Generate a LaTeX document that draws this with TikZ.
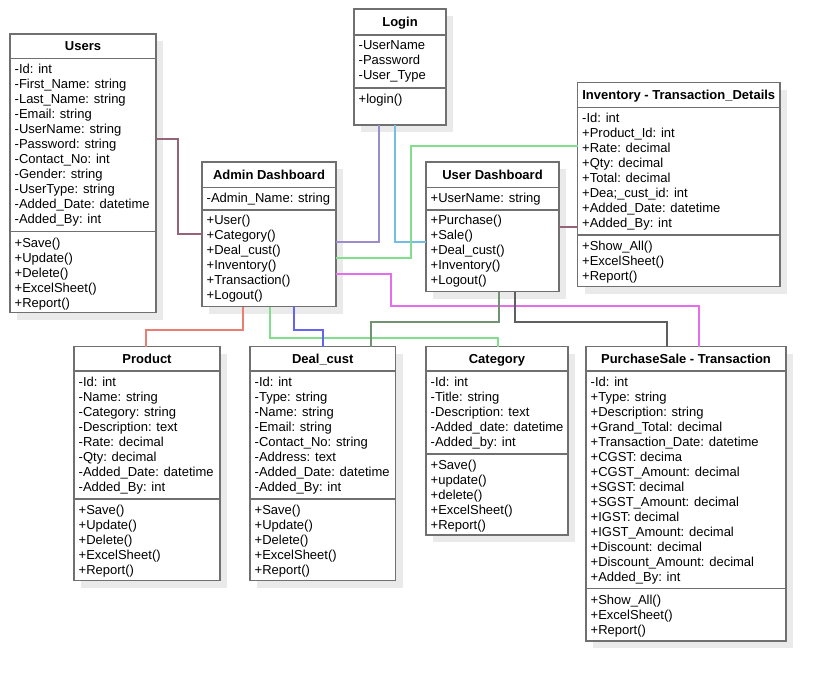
\documentclass[tikz,border=0pt]{standalone}
\usepackage{fontspec}
\setmainfont{Liberation Sans}
\definecolor{bord}{RGB}{112,112,112}
\definecolor{shad}{RGB}{234,234,234}
\definecolor{cmauve}{RGB}{150,100,120}
\definecolor{cpurple}{RGB}{155,140,205}
\definecolor{ccyan}{RGB}{115,190,225}
\definecolor{clgreen}{RGB}{130,222,140}
\definecolor{cmagenta}{RGB}{228,110,235}
\definecolor{csalmon}{RGB}{235,125,115}
\definecolor{cblue}{RGB}{100,100,240}
\definecolor{cggreen}{RGB}{115,145,115}
\definecolor{cdgray}{RGB}{95,95,95}
\tikzset{
  clsbox/.style={draw=bord, line width=1.8pt, fill=white, inner sep=0pt, outer sep=0pt, anchor=north west},
  shadowbox/.style={fill=shad, draw=none},
  divline/.style={draw=bord, line width=1.8pt},
  txt/.style={anchor=base west, inner sep=0pt, font=\fontsize{13}{15}\selectfont},
  ttl/.style={anchor=base, inner sep=0pt, font=\fontsize{13}{15}\selectfont\bfseries},
  connline/.style={line width=2pt, draw=#1},
}
% #1 name, #2 x1, #3 y1, #4 x2, #5 y2, #6 div1, #7 div2, #8 title
\newcommand\umlbox[8]{%
  \fill[shadowbox] (#2+7,#3+7) rectangle (#4+7,#5+7);
  \node[clsbox, minimum width=#4pt-#2pt, minimum height=#5pt-#3pt] (#1) at (#2,#3) {};
  \draw[divline] (#2,#6) -- (#4,#6);
  \draw[divline] (#2,#7) -- (#4,#7);
  \node[ttl] (#1title) at ({(#2+#4)/2},{(#3+#6)/2+4.6}) {#8};
}
% #1 prefix, #2 x, #3 first baseline, #4 list
\newcommand\umllines[4]{%
  \foreach \lineitem [count=\i from 0] in {#4} {\node[txt] (#1\i) at (#2,#3+15*\i) {\lineitem};}
}
\begin{document}
\begin{tikzpicture}[x=1pt,y=-1pt]
\useasboundingbox (0,0) rectangle (826,681);
\fill[white] (0,0) rectangle (826,681);

% Users
\umlbox{users}{10}{34}{156}{312.5}{58.5}{231.5}{Users}
\umllines{usersa}{14.5}{73}{-Id: int,-First\_Name: string,-Last\_Name: string,-Email: string,-UserName: string,-Password: string,-Contact\_No: int,-Gender: string,-UserType: string,-Added\_Date: datetime,-Added\_By: int}
\umllines{usersm}{14.5}{247}{+Save(),+Update(),+Delete(),+ExcelSheet(),+Report()}

% Login
\umlbox{login}{354}{9}{446}{125}{35}{88}{Login}
\umllines{logina}{358.5}{49.6}{-UserName,-Password,-User\_Type}
\umllines{loginm}{358.5}{103.6}{+login()}

% Admin Dashboard
\umlbox{admin}{202}{162}{336}{306.5}{187.5}{210}{Admin Dashboard}
\umllines{admina}{206.5}{202.3}{-Admin\_Name: string}
\umllines{adminm}{206.5}{224.7}{+User(),+Category(),+Deal\_cust(),+Inventory(),+Transaction(),+Logout()}

% User Dashboard
\umlbox{udash}{426}{162}{559}{291.5}{187.5}{210}{User Dashboard}
\umllines{udasha}{430.5}{202.3}{+UserName: string}
\umllines{udashm}{430.5}{224.7}{+Purchase(),+Sale(),+Deal\_cust(),+Inventory(),+Logout()}

% Inventory
\umlbox{inv}{577.5}{82.5}{780}{286.5}{107.5}{235}{Inventory - Transaction\_Details}
\umllines{inva}{582}{122.3}{-Id: int,+Product\_Id: int,+Rate: decimal,+Qty: decimal,+Total: decimal,+Dea;\_cust\_id: int,+Added\_Date: datetime,+Added\_By: int}
\umllines{invm}{582}{250.7}{+Show\_All(),+ExcelSheet(),+Report()}

% Product
\umlbox{prod}{74}{346.5}{220}{580.5}{371}{499}{Product}
\umllines{proda}{78.5}{386.3}{-Id: int,-Name: string,-Category: string,-Description: text,-Rate: decimal,-Qty: decimal,-Added\_Date: datetime,-Added\_By: int}
\umllines{prodm}{78.5}{514.7}{+Save(),+Update(),+Delete(),+ExcelSheet(),+Report()}

% Deal_cust
\umlbox{deal}{250}{346.5}{395.5}{580.5}{371}{499}{Deal\_cust}
\umllines{deala}{254.5}{386.3}{-Id: int,-Type: string,-Name: string,-Email: string,-Contact\_No: string,-Address: text,-Added\_Date: datetime,-Added\_By: int}
\umllines{dealm}{254.5}{514.7}{+Save(),+Update(),+Delete(),+ExcelSheet(),+Report()}

% Category
\umlbox{cat}{426}{346.5}{568}{535}{371}{454}{Category}
\umllines{cata}{430.5}{386.3}{-Id: int,-Title: string,-Description: text,-Added\_date: datetime,-Added\_by: int}
\umllines{catm}{430.5}{469.7}{+Save(),+update(),+delete(),+ExcelSheet(),+Report()}

% PurchaseSale - Transaction
\umlbox{ps}{586}{346.5}{786}{641}{371}{588.5}{PurchaseSale - Transaction}
\umllines{psa}{590.5}{386.3}{-Id: int,+Type: string,+Description: string,+Grand\_Total: decimal,+Transaction\_Date: datetime,+CGST: decima,+CGST\_Amount: decimal,+SGST: decimal,+SGST\_Amount: decimal,+IGST: decimal,+IGST\_Amount: decimal,+Discount: decimal,+Discount\_Amount: decimal,+Added\_By: int}
\umllines{psm}{590.5}{604}{+Show\_All(),+ExcelSheet(),+Report()}

% connectors
\draw[connline=cmauve] (users.east |- 0,138.5) -| (177.5,233.5) -- (admin.west |- 0,233.5);
\draw[connline=cpurple] (login.south -| 378.5,0) |- (admin.east |- 0,241.5);
\draw[connline=ccyan] (login.south -| 394.5,0) |- (udash.west |- 0,241.5);
\draw[connline=clgreen] (inv.west |- 0,145.5) -| (410.5,257.5) -- (admin.east |- 0,257.5);
\draw[connline=cmagenta] (admin.east |- 0,273.5) -| (390.5,305.5) -| (ps.north -| 698.5,0);
\draw[connline=cmauve] (udash.east |- 0,226.5) -- (inv.west |- 0,226.5);
\draw[connline=csalmon] (admin.south -| 242.5,0) |- (145.5,329.5) -- (prod.north -| 145.5,0);
\draw[connline=clgreen] (admin.south -| 269.5,0) |- (497.5,337.5) -- (cat.north -| 497.5,0);
\draw[connline=cblue] (admin.south -| 293.5,0) |- (322.5,329.5) -- (deal.north -| 322.5,0);
\draw[connline=cggreen] (udash.south -| 498.5,0) |- (370.5,321.5) -- (deal.north -| 370.5,0);
\draw[connline=cdgray] (udash.south -| 514.5,0) |- (666.5,321.5) -- (ps.north -| 666.5,0);
\end{tikzpicture}
\end{document}
